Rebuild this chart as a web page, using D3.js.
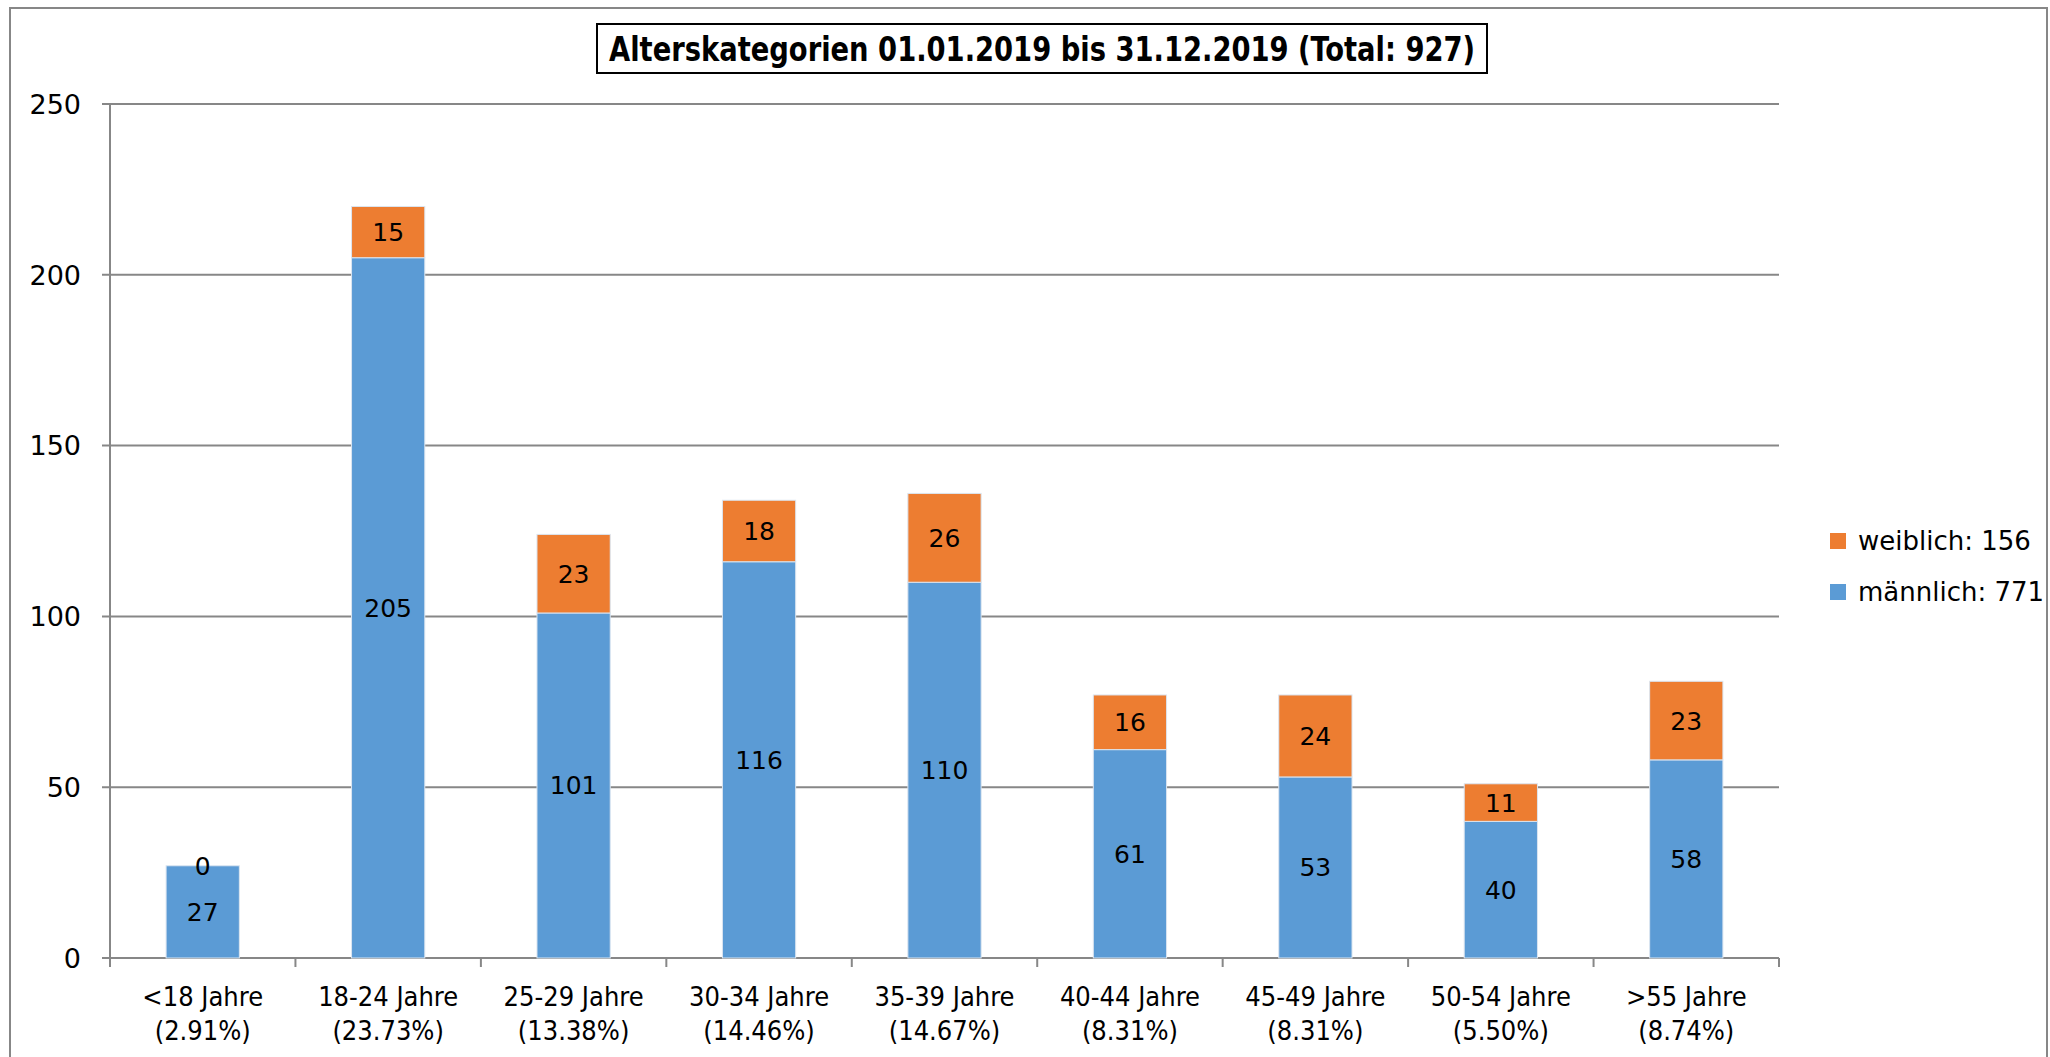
<!DOCTYPE html>
<html>
<head>
<meta charset="utf-8">
<script src="https://cdn.jsdelivr.net/npm/d3@7"></script>
<style>
  body { margin: 0; background: #fff; }
  svg { display: block; }
  .cond { font-family: "DejaVu Sans Condensed", "DejaVu Sans", sans-serif; font-stretch: condensed; }
  .wide { font-family: "DejaVu Sans", sans-serif; }
</style>
</head>
<body>
<div id="chart"></div>
<script>
var width = 2050,
  height = 1057;

// data
var kategorien = ["<18 Jahre", "18-24 Jahre", "25-29 Jahre", "30-34 Jahre", "35-39 Jahre",
  "40-44 Jahre", "45-49 Jahre", "50-54 Jahre", ">55 Jahre"];
var anteile = ["(2.91%)", "(23.73%)", "(13.38%)", "(14.46%)", "(14.67%)",
  "(8.31%)", "(8.31%)", "(5.50%)", "(8.74%)"];
var maennlich = [27, 205, 101, 116, 110, 61, 53, 40, 58];
var weiblich = [0, 15, 23, 18, 26, 16, 24, 11, 23];
var yTicks = [0, 50, 100, 150, 200, 250];
var legendeText = ["weiblich: 156", "männlich: 771"];
var titel = "Alterskategorien 01.01.2019 bis 31.12.2019 (Total: 927)";

var blau = "#5b9bd5", orange = "#ed7d31", grau = "#878787";

var svg = d3.select("#chart").append("svg")
  .attr("width", width)
  .attr("height", height);

// outer frame
svg.append("rect")
  .attr("x", 10).attr("y", 8)
  .attr("width", 2037).attr("height", 1080)
  .attr("fill", "none")
  .attr("stroke", grau)
  .attr("stroke-width", 2);

var plot = {left: 110, right: 1779, top: 104, bottom: 958};

var x = d3.scaleBand()
  .domain(kategorien)
  .range([plot.left, plot.right])
  .paddingInner(0.605)
  .paddingOuter(0.3025);

var y = d3.scaleLinear()
  .domain([0, 250])
  .range([plot.bottom, plot.top]);

// gridlines
svg.append("g")
  .selectAll("line")
  .data(yTicks)
  .enter().append("line")
  .attr("x1", plot.left - 8)
  .attr("x2", plot.right)
  .attr("y1", d => y(d))
  .attr("y2", d => y(d))
  .attr("stroke", grau)
  .attr("stroke-width", 2);

// y labels
svg.append("g")
  .selectAll("text")
  .data(yTicks)
  .enter().append("text")
  .attr("class", "wide")
  .attr("x", plot.left - 29)
  .attr("y", d => y(d))
  .attr("dy", "0.36em")
  .attr("text-anchor", "end")
  .attr("font-size", 27)
  .text(d => d);

// stacked data
var reihen = kategorien.map(function(k, i) {
  return {kat: k, m: maennlich[i], w: weiblich[i]};
});
var stack = d3.stack().keys(["m", "w"])(reihen);
var farben = {m: blau, w: orange};

var gruppen = svg.append("g")
  .selectAll("g")
  .data(stack)
  .enter().append("g")
  .attr("fill", d => farben[d.key]);

gruppen.selectAll("rect")
  .data(d => d)
  .enter().append("rect")
  .attr("x", d => x(d.data.kat))
  .attr("y", d => y(d[1]))
  .attr("width", x.bandwidth())
  .attr("height", d => y(d[0]) - y(d[1]))
  .attr("stroke", "#dbe5f0")
  .attr("stroke-width", 1);

// segment labels
gruppen.selectAll("text")
  .data(d => d)
  .enter().append("text")
  .attr("class", "wide")
  .attr("x", d => x(d.data.kat) + x.bandwidth() / 2)
  .attr("y", d => (y(d[0]) + y(d[1])) / 2)
  .attr("dy", "0.36em")
  .attr("text-anchor", "middle")
  .attr("font-size", 25)
  .attr("fill", "#000")
  .text(d => d[1] - d[0]);

// y axis line
svg.append("line")
  .attr("x1", plot.left).attr("x2", plot.left)
  .attr("y1", plot.top).attr("y2", plot.bottom)
  .attr("stroke", grau).attr("stroke-width", 2);

// x axis ticks at category borders
var grenzen = d3.range(kategorien.length + 1).map(i => plot.left + i * x.step());
svg.append("g")
  .selectAll("line")
  .data(grenzen)
  .enter().append("line")
  .attr("x1", d => d).attr("x2", d => d)
  .attr("y1", plot.bottom).attr("y2", plot.bottom + 9)
  .attr("stroke", grau).attr("stroke-width", 2);

// x labels
var xl = svg.append("g")
  .selectAll("text")
  .data(kategorien)
  .enter().append("text")
  .attr("class", "cond")
  .attr("text-anchor", "middle")
  .attr("font-size", 27)
  .attr("x", d => x(d) + x.bandwidth() / 2)
  .attr("y", 1006);
xl.append("tspan").text(d => d);
xl.append("tspan")
  .attr("x", d => x(d) + x.bandwidth() / 2)
  .attr("dy", 34)
  .text((d, i) => anteile[i]);

// title
svg.append("rect")
  .attr("x", 597).attr("y", 24)
  .attr("width", 890).attr("height", 49)
  .attr("fill", "#fff")
  .attr("stroke", "#000")
  .attr("stroke-width", 2);
svg.append("text")
  .attr("class", "cond")
  .attr("x", 1042)
  .attr("y", 49)
  .attr("dy", "0.36em")
  .attr("text-anchor", "middle")
  .attr("font-size", 33)
  .attr("font-weight", "bold")
  .attr("textLength", 866)
  .attr("lengthAdjust", "spacingAndGlyphs")
  .text(titel);

// legend
var legende = svg.append("g")
  .selectAll("g")
  .data(legendeText)
  .enter().append("g")
  .attr("transform", (d, i) => "translate(1830," + (541 + i * 51) + ")");
legende.append("rect")
  .attr("x", 0).attr("y", -8)
  .attr("width", 16).attr("height", 16)
  .attr("fill", (d, i) => i == 0 ? orange : blau);
legende.append("text")
  .attr("class", "wide")
  .attr("x", 28)
  .attr("dy", "0.36em")
  .attr("font-size", 26)
  .text(d => d);
</script>
</body>
</html>
